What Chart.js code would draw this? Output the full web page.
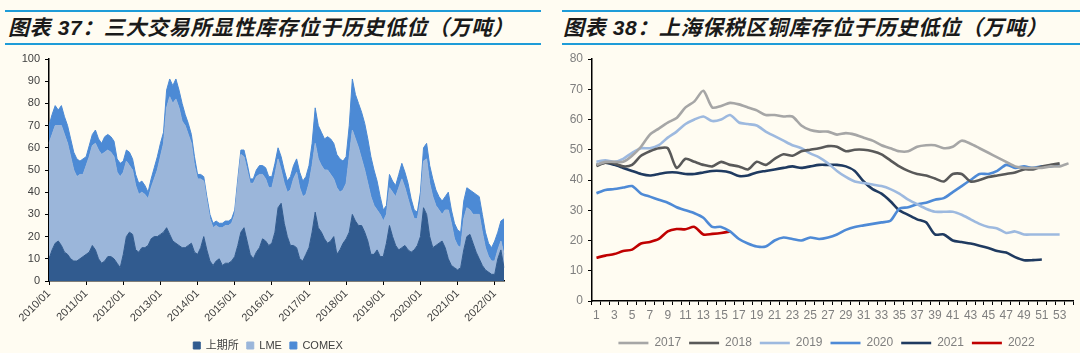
<!DOCTYPE html>
<html lang="zh-CN">
<head>
<meta charset="UTF-8">
<title>库存图表</title>
<script src="https://cdn.jsdelivr.net/npm/chart.js"></script>
<style>
  body {
    margin: 0;
    width: 1080px;
    height: 353px;
    overflow: hidden;
    position: relative;
    background: #FFFCF2;
    font-family: "Liberation Sans", Arial, "Noto Sans CJK SC", sans-serif;
  }
  .title {
    position: absolute;
    top: 10px;
    height: 31px;
    line-height: 31px;
    border-top: 2px solid #1E9CD8;
    border-bottom: 2px solid #1E9CD8;
    font-family: "Liberation Sans", "Noto Sans CJK SC", sans-serif;
    font-style: italic;
    font-weight: bold;
    font-size: 21px;
    letter-spacing: 0.6px;
    color: #1a1a1a;
    white-space: nowrap;
    box-sizing: content-box;
  }
  #t1 { left: 5px; width: 533px; padding-left: 3px; }
  #t2 { left: 562px; width: 517px; padding-left: 1px; }
  canvas { position: absolute; top: 45px; }
  #c1 { left: 0; }
  #c2 { left: 562px; }
</style>
</head>
<body>
<div class="title" id="t1">图表 37：三大交易所显性库存位于历史低位（万吨）</div>
<div class="title" id="t2">图表 38：上海保税区铜库存位于历史低位（万吨）</div>
<canvas id="c1" width="540" height="316"></canvas>
<canvas id="c2" width="518" height="314"></canvas>

<script>
// ---- 图表37 月度数据 2010/01 - 2022/04（万吨）----
const months = [];
for (let y = 2010; y <= 2022; y++) {
  for (let m = 1; m <= 12; m++) {
    if (y === 2022 && m > 4) break;
    months.push(y + '/' + String(m).padStart(2, '0'));
  }
}

const shfe = [
  10,14,17,18,16,13,12,10,9,9,10,11,
  12,13,16,14,10,8,9,11,11,10,8,6,
  12,20,22,21,14,13,15,15,16,19,20,20,
  21,22,24,21,18,17,16,15,15,16,17,13,
  12,15,20,14,9,7,9,10,7,8,8,9,
  11,16,22,24,18,12,10,13,15,19,18,16,
  17,22,33,35,26,20,16,16,15,10,9,12,
  15,22,31,24,22,19,17,18,20,12,14,17,
  19,22,30,27,25,25,22,18,12,12,14,11,
  11,17,25,20,16,14,15,16,14,13,14,16,
  20,33,30,20,15,16,17,18,15,10,7,6,
  5,6,14,20,21,17,13,10,7,5,4,3,
  3,10,14,6
];
const lme = [
  52,52,53,52,54,53,50,46,41,38,38,37,
  40,43,45,48,49,49,49,48,47,46,41,41,
  37,34,30,29,29,26,25,24,21,23,26,30,
  35,40,54,62,62,65,62,57,55,50,45,39,
  34,31,25,22,19,17,16,14,17,17,17,17,
  19,28,35,32,32,32,34,34,33,29,28,26,
  25,26,22,15,18,20,25,30,34,32,29,27,
  29,30,31,31,30,31,33,30,26,30,26,24,
  25,34,38,37,35,30,28,26,26,22,18,19,
  16,13,17,20,22,28,31,26,23,19,14,12,
  16,21,25,24,23,18,15,12,17,22,19,13,
  11,9,14,13,11,13,17,20,15,10,7,6,
  6,4,4,6
];
const comex = [
  8,9,9,7,9,8,8,8,8,8,6,7,
  4,5,5,6,5,5,7,7,7,7,6,6,
  5,5,6,5,5,5,5,4,3,4,5,6,
  6,5,8,8,8,9,8,8,5,5,4,4,
  2,2,2,2,2,2,2,2,2,2,2,2,
  2,2,2,3,3,2,2,3,4,4,5,5,
  5,5,5,6,6,5,6,6,6,7,7,8,
  8,10,16,15,15,14,15,16,16,15,15,13,
  12,14,23,20,20,21,21,20,18,16,13,8,
  5,4,6,5,5,6,7,7,7,5,4,3,
  4,6,7,8,8,7,6,6,6,8,6,7,
  7,7,8,9,9,10,9,8,8,7,6,6,
  9,8,9,16
];

// ---- 图表38 周度数据（万吨）----
const weeks = [];
for (let w = 1; w <= 54; w++) weeks.push(String(w));

const y2017 = [45,46,46,46,48,51,55,57,59,60.5,64,66,69.5,64,64.5,65.5,65,64,63,61.5,61.5,61,61,58,56.5,56,56,55,55.5,55,54,53,51.5,50.5,49.5,49.5,51,51.5,51.5,50.5,51,53,52,50.5,49,47.5,46,44.5,44,44,44,44.5,44.5,45.5];
const y2018 = [44.6,45.7,45.5,44.5,45,48,49.5,50.5,50.5,44,47,46,45,44.5,46,45,44.5,43.5,46,45,47,48.5,48,49.5,50,50.5,51.2,51,49.5,50,50,49.5,48.5,46.5,44.5,43,42,41.5,40.5,39.5,42,42,39.5,40,41,41.5,42,42.5,43.5,43.5,44.5,45,45.5];
const y2019 = [46,46.5,46,47,49,50.5,50.5,51.5,54,56,58.5,60,61,59.5,60,61.5,59,58.5,58,56,54.5,53,51.5,50.5,48.8,47.5,45.5,43,41,39.5,39,38.5,38,37,35.5,33.5,32,30.5,29.5,29.5,29.5,28.5,27,25.5,24.5,24,22.5,23,22,22,22,22,22];
const y2020 = [35.6,36.7,37,37.5,38,35.5,34.5,33.5,32.5,31,30,29,27.5,24.5,24.5,23,20.5,19,18,18,20,21,20.5,20,21,20.5,21,22,23.5,24.5,25,25.5,26,26.5,30.5,31,32,32.5,33.5,34,36,38,40,42,42,43,45,44,44.5,44,44.5,44.5,45];
const y2021 = [45,45.7,45,44,43,42,41.5,42,42.5,42.5,42,42,42.5,43,43,42.5,41.3,41.5,42.5,43,43.5,44,44.5,44,44.5,45,45,45,44.5,43,39.5,37,35.5,33,30,28.5,27,26,22,22,20,19.5,19,18.3,17.5,16.5,16,14.5,13.5,13.5,13.7];
const y2022 = [14.3,15,15.5,16.5,17,19,19.5,20.5,23,23.8,23.7,24.5,22,22.2,22.5,23];

const FONT = '"Liberation Sans", Arial, "Noto Sans CJK SC", sans-serif';

// 图例整体右移一点，和原图位置对齐
function legendShift(dx) {
  return {
    id: 'legendShift',
    afterLayout(chart) {
      chart.legend.left += dx;
      chart.legend.right += dx;
    }
  };
}

function area(label, data, color, fill) {
  return {
    label: label, data: data, fill: fill,
    backgroundColor: color, borderColor: color, borderWidth: 1,
    pointRadius: 0, tension: 0
  };
}

new Chart(document.getElementById('c1'), {
  type: 'line',
  data: {
    labels: months,
    datasets: [
      area('上期所', shfe, '#315B8F', 'origin'),
      area('LME', lme, '#9BB6DA', '-1'),
      area('COMEX', comex, '#4C8AD5', '-1')
    ]
  },
  plugins: [legendShift(16)],
  options: {
    responsive: false,
    animation: false,
    layout: { padding: { top: 14, right: 36, bottom: 0, left: 0 } },
    plugins: {
      tooltip: { enabled: false },
      legend: {
        position: 'bottom',
        labels: {
          boxWidth: 7, boxHeight: 7, padding: 8,
          color: '#404040', font: { family: FONT, size: 11 }
        }
      }
    },
    scales: {
      x: {
        offset: false,
        grid: {
          drawOnChartArea: false, tickLength: 4,
          color: c => (c.index % 12 === 0 ? '#000' : 'rgba(0,0,0,0)')
        },
        border: { color: '#000', width: 1.5 },
        ticks: {
          autoSkip: false, minRotation: 45, maxRotation: 45, padding: 2,
          color: '#404040', font: { family: FONT, size: 11 },
          callback: function (v, i) { return i % 12 === 0 ? this.getLabelForValue(v) : ''; }
        },
        afterFit: s => { s.height = 51; }
      },
      y: {
        stacked: true, min: 0, max: 100,
        grid: { drawOnChartArea: false, tickLength: 4, color: '#000' },
        border: { color: '#000', width: 1.5 },
        ticks: { stepSize: 10, padding: 5, color: '#404040', font: { family: FONT, size: 11 } },
        afterFit: s => { s.width = 49; }
      }
    }
  }
});

function yearLine(label, data, color) {
  return {
    label: label, data: data, borderColor: color, backgroundColor: color,
    borderWidth: 2.6, pointRadius: 0, tension: 0.25, fill: false
  };
}

new Chart(document.getElementById('c2'), {
  type: 'line',
  data: {
    labels: weeks,
    datasets: [
      yearLine('2017', y2017, '#A6A6A6'),
      yearLine('2018', y2018, '#595959'),
      yearLine('2019', y2019, '#9DB9DF'),
      yearLine('2020', y2020, '#4E8AD6'),
      yearLine('2021', y2021, '#1F3A60'),
      yearLine('2022', y2022, '#C00000')
    ]
  },
  plugins: [legendShift(9)],
  options: {
    responsive: false,
    animation: false,
    layout: { padding: { top: 14, right: 7, bottom: 0, left: 0 } },
    plugins: {
      tooltip: { enabled: false },
      legend: {
        position: 'bottom',
        labels: {
          usePointStyle: true, pointStyle: 'line', pointStyleWidth: 30,
          padding: 8, color: '#7F7F7F', font: { family: FONT, size: 12 }
        }
      }
    },
    scales: {
      x: {
        offset: true,
        grid: { offset: true, drawOnChartArea: false, tickLength: 4, color: '#000' },
        border: { color: '#000', width: 1.5 },
        ticks: {
          autoSkip: false, maxRotation: 0, padding: 3,
          color: '#7F7F7F', font: { family: FONT, size: 12 },
          callback: function (v, i) { return i % 2 === 0 ? this.getLabelForValue(v) : ''; }
        },
        afterFit: s => { s.height = 28; }
      },
      y: {
        min: 0, max: 80,
        grid: { drawOnChartArea: false, tickLength: 4, color: '#000' },
        border: { color: '#000', width: 1.5 },
        ticks: { stepSize: 10, padding: 5, color: '#7F7F7F', font: { family: FONT, size: 12 } },
        afterFit: s => { s.width = 30; }
      }
    }
  }
});
</script>
</body>
</html>
